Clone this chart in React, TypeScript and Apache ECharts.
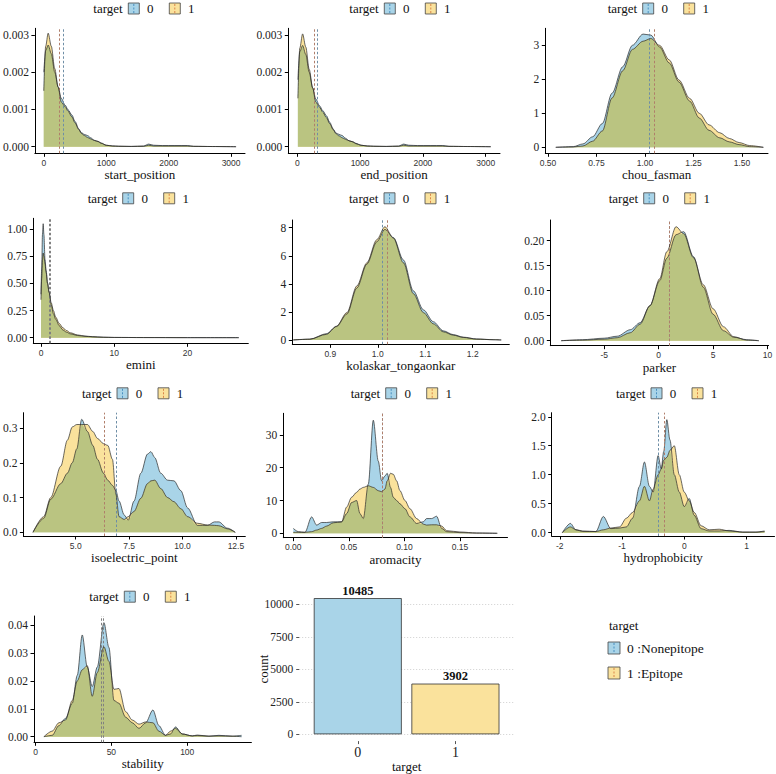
import React, { useEffect, useRef } from "react";
import * as echarts from "echarts";

const SERIF = "Liberation Serif";
const SANS = "Liberation Sans";

// ---------------- data ----------------
const variableNames = [
  "start_position", "end_position", "chou_fasman",
  "emini", "kolaskar_tongaonkar", "parker",
  "isoelectric_point", "aromacity", "hydrophobicity", "stability",
];

const startX = [0, 30, 70, 120, 175, 230, 280, 340, 390, 450, 500, 560, 600, 650, 700, 750, 810, 870, 920, 1000, 1100, 1200, 1400, 1600, 1680, 1760, 1900, 2100, 2300, 2400, 2700, 3080];
const startY0 = [0.0020, 0.00258, 0.00273, 0.0025, 0.0020, 0.0016, 0.0013, 0.00112, 0.00099, 0.00085, 0.00068, 0.00048, 0.00038, 0.00033, 0.0003, 0.00024, 0.00017, 0.00014, 0.0001, 0.00004, 0.00002, 0.000015, 0.00001, 0.00002, 0.00007, 0.00004, 0.00003, 0.00003, 0.00003, 0.00001, 0.000005, 0];
const startY1 = [0.0015, 0.0027, 0.00305, 0.0027, 0.0021, 0.0016, 0.0012, 0.00108, 0.00095, 0.0008, 0.00064, 0.00046, 0.00036, 0.0003, 0.00025, 0.00021, 0.00017, 0.00014, 0.00009, 0.00004, 0.00002, 0.00001, 0.000005, 0.00001, 0.00004, 0.00002, 0.00002, 0.00002, 0.00002, 0.00001, 0.000005, 0];

const endX = [10, 40, 85, 135, 190, 245, 295, 355, 405, 465, 515, 575, 615, 665, 715, 765, 825, 885, 935, 1015, 1115, 1215, 1415, 1615, 1695, 1775, 1915, 2115, 2315, 2415, 2715, 3080];
const endY0 = [0.0018, 0.00255, 0.00272, 0.00248, 0.0020, 0.00158, 0.00128, 0.0011, 0.00097, 0.00083, 0.00066, 0.00047, 0.00037, 0.00033, 0.0003, 0.00023, 0.00016, 0.00013, 0.00009, 0.00004, 0.00002, 0.000015, 0.00001, 0.00002, 0.00007, 0.00004, 0.00003, 0.00003, 0.00003, 0.00001, 0.000005, 0];
const endY1 = [0.0013, 0.00265, 0.00303, 0.00268, 0.00208, 0.00158, 0.0012, 0.00106, 0.00093, 0.00078, 0.00062, 0.00045, 0.00035, 0.00029, 0.00024, 0.0002, 0.00016, 0.00013, 0.00008, 0.00004, 0.00002, 0.00001, 0.000005, 0.00001, 0.00004, 0.00002, 0.00002, 0.00002, 0.00002, 0.00001, 0.000005, 0];

const chouX = [0.54, 0.63, 0.68, 0.73, 0.78, 0.83, 0.885, 0.935, 0.99, 1.03, 1.075, 1.125, 1.175, 1.23, 1.28, 1.33, 1.385, 1.435, 1.485, 1.54, 1.61];
const chouY0 = [0, 0.02, 0.1, 0.31, 0.7, 1.59, 2.37, 3.0, 3.33, 3.3, 2.95, 2.48, 1.92, 1.36, 0.86, 0.5, 0.28, 0.16, 0.08, 0.02, 0];
const chouY1 = [0, 0.01, 0.04, 0.18, 0.48, 1.45, 2.25, 2.88, 3.12, 3.2, 3.0, 2.57, 1.98, 1.44, 1.0, 0.66, 0.43, 0.26, 0.14, 0.05, 0];

const eminiX = [0, 0.1, 0.2, 0.3, 0.4, 0.55, 0.7, 0.9, 1.1, 1.4, 1.7, 2.0, 2.5, 3.0, 3.5, 4.0, 5.0, 6.0, 7.0, 8.5, 10, 14, 20, 27];
const eminiY0 = [0.4, 0.65, 0.95, 1.05, 0.95, 0.72, 0.62, 0.5, 0.42, 0.3, 0.22, 0.17, 0.11, 0.07, 0.05, 0.035, 0.02, 0.012, 0.008, 0.004, 0.002, 0.001, 0.0005, 0];
const eminiY1 = [0.35, 0.55, 0.72, 0.78, 0.75, 0.68, 0.6, 0.5, 0.42, 0.32, 0.25, 0.19, 0.13, 0.09, 0.065, 0.045, 0.025, 0.015, 0.009, 0.004, 0.002, 0.001, 0, 0];

const kolaskarX = [0.822, 0.857, 0.892, 0.913, 0.935, 0.956, 0.977, 0.998, 1.015, 1.033, 1.054, 1.075, 1.096, 1.117, 1.138, 1.159, 1.18, 1.208, 1.243, 1.26];
const kolaskarY0 = [0, 0.05, 0.45, 0.95, 1.85, 3.7, 5.4, 7.0, 7.88, 7.3, 5.7, 3.5, 2.15, 1.3, 0.65, 0.38, 0.2, 0.07, 0.02, 0];
const kolaskarY1 = [0, 0.06, 0.4, 0.98, 1.95, 3.85, 5.5, 7.15, 8.07, 7.25, 5.5, 3.3, 1.95, 1.15, 0.58, 0.34, 0.18, 0.06, 0.015, 0];

const parkerX = [-8.95, -7.0, -5.0, -3.8, -2.6, -1.7, -0.8, 0.1, 0.75, 1.6, 2.3, 3.2, 4.1, 5.0, 5.95, 6.9, 8.1, 9.2];
const parkerY0 = [0, 0.002, 0.005, 0.009, 0.022, 0.036, 0.07, 0.12, 0.165, 0.212, 0.218, 0.168, 0.107, 0.053, 0.02, 0.007, 0.002, 0];
const parkerY1 = [0, 0.001, 0.003, 0.006, 0.016, 0.033, 0.07, 0.124, 0.178, 0.228, 0.214, 0.166, 0.112, 0.064, 0.028, 0.008, 0.001, 0];

const isoX = [3.0, 3.5, 3.83, 4.3, 4.61, 4.84, 5.05, 5.28, 5.55, 5.8, 6.02, 6.3, 6.5, 6.72, 6.88, 7.03, 7.27, 7.46, 7.73, 8.05, 8.36, 8.52, 8.7, 8.98, 9.3, 9.6, 9.92, 10.24, 10.7, 11.17, 11.5, 11.7, 12.1, 12.47];
const isoY0 = [0, 0.04, 0.095, 0.14, 0.17, 0.2, 0.24, 0.325, 0.29, 0.25, 0.21, 0.17, 0.15, 0.135, 0.12, 0.09, 0.05, 0.035, 0.09, 0.17, 0.225, 0.232, 0.215, 0.17, 0.15, 0.148, 0.12, 0.07, 0.02, 0.02, 0.03, 0.03, 0.012, 0];
const isoY1 = [0, 0.045, 0.1, 0.19, 0.265, 0.303, 0.31, 0.31, 0.31, 0.29, 0.27, 0.255, 0.25, 0.21, 0.11, 0.045, 0.037, 0.045, 0.06, 0.098, 0.14, 0.148, 0.15, 0.126, 0.1, 0.088, 0.068, 0.045, 0.026, 0.021, 0.02, 0.019, 0.01, 0];

const aroX = [0, 0.0045, 0.0105, 0.0165, 0.021, 0.0255, 0.03, 0.036, 0.0435, 0.048, 0.0525, 0.057, 0.06, 0.063, 0.0675, 0.072, 0.0765, 0.0795, 0.0825, 0.0845, 0.0875, 0.09, 0.093, 0.096, 0.1005, 0.105, 0.111, 0.117, 0.12, 0.1245, 0.129, 0.1335, 0.138, 0.15, 0.165, 0.1836];
const aroY0 = [1.5, 0.5, 0.3, 5.0, 2.5, 3.3, 3.3, 3.5, 3.5, 6, 9.4, 10, 6, 4.5, 15, 34.5, 22, 16, 17.5, 18.3, 14, 11, 10, 9, 7.5, 5, 3, 3.5, 4.5, 4.5, 5.2, 1.5, 0.5, 0.2, 0.05, 0];
const aroY1 = [0.3, 0.3, 0.3, 0.5, 1.0, 1.5, 2.2, 3.2, 3.5, 8, 11, 12.5, 13.5, 14, 14.5, 14, 13, 12.7, 13.5, 16, 18.3, 18, 16, 13, 10, 7.5, 4.5, 2.8, 2.5, 2.6, 2.6, 2.2, 0.8, 0.4, 0.1, 0];

const hydroX = [-1.96, -1.83, -1.74, -1.63, -1.42, -1.3, -1.18, -1.04, -0.93, -0.83, -0.72, -0.64, -0.56, -0.5, -0.42, -0.37, -0.33, -0.28, -0.23, -0.16, -0.08, 0.0, 0.08, 0.16, 0.27, 0.4, 0.56, 0.72, 0.94, 1.15, 1.29];
const hydroY0 = [0, 0.16, 0.05, 0.02, 0.02, 0.28, 0.07, 0.08, 0.1, 0.25, 0.8, 1.22, 0.8, 0.7, 1.33, 1.1, 1.4, 1.95, 1.6, 1.0, 0.7, 0.45, 0.59, 0.3, 0.07, 0.03, 0.03, 0.04, 0.01, 0.01, 0.03];
const hydroY1 = [0, 0.1, 0.05, 0.03, 0.02, 0.05, 0.08, 0.1, 0.25, 0.35, 0.55, 0.8, 0.55, 0.75, 1.0, 1.1, 1.25, 1.3, 1.42, 1.5, 1.0, 0.7, 0.55, 0.35, 0.12, 0.05, 0.06, 0.03, 0.01, 0.01, 0.02];

const stabX = [5.5, 11, 15.4, 19.8, 24.2, 27.5, 30.8, 34.1, 37.4, 40.7, 45.1, 48.4, 51.7, 55, 59.4, 63.8, 68.2, 72.6, 77.4, 81.3, 85.7, 89, 92.3, 96.7, 103.3, 106.6, 114.3, 120.9, 129.7, 135.8];
const stabY0 = [0, 0.0005, 0.004, 0.0066, 0.012, 0.022, 0.0365, 0.025, 0.018, 0.025, 0.0409, 0.032, 0.013, 0.012, 0.007, 0.005, 0.003, 0.005, 0.0096, 0.004, 0.0005, 0.001, 0.0035, 0.001, 0.0003, 0.0006, 0.0002, 0.0005, 0.0002, 0.0005];
const stabY1 = [0, 0.002, 0.005, 0.006, 0.013, 0.02, 0.024, 0.0255, 0.0145, 0.023, 0.0323, 0.027, 0.017, 0.0173, 0.009, 0.006, 0.0045, 0.0053, 0.005, 0.002, 0.0005, 0.002, 0.003, 0.001, 0.0003, 0.0004, 0.0002, 0.0003, 0.0002, 0];

const meansTarget0 = [318, 325, 1.022, 1.13, 1.012, 0.96, 6.92, 0.0765, -0.42, 44.4];
const meansTarget1 = [254, 271, 1.048, 1.32, 1.016, 0.98, 6.33, 0.0787, -0.315, 43.5];

const xTickValues = [
  [0, 1000, 2000, 3000], [0, 1000, 2000, 3000], [0.5, 0.75, 1.0, 1.25, 1.5],
  [0, 10, 20], [0.9, 1.0, 1.1, 1.2], [-5, 0, 5, 10],
  [5, 7.5, 10, 12.5], [0, 0.05, 0.1, 0.15], [-2, -1, 0, 1], [0, 50, 100],
];
const yTickValues = [
  [0, 0.001, 0.002, 0.003], [0, 0.001, 0.002, 0.003], [0, 1, 2, 3],
  [0, 0.25, 0.5, 0.75, 1.0], [0, 2, 4, 6, 8], [0, 0.05, 0.1, 0.15, 0.2],
  [0, 0.1, 0.2, 0.3], [0, 10, 20, 30], [0, 0.5, 1.0, 1.5, 2.0], [0, 0.01, 0.02, 0.03, 0.04],
];
const xTickDecimals = [0, 0, 2, 0, 1, 0, 1, 2, 0, 0];
const yTickDecimals = [3, 3, 0, 2, 0, 2, 1, 0, 1, 2];

const groupKeys = ["0", "1"];
const barCategories = ["0", "1"];
const barCounts = [10485, 3902];
const barTicks = [0, 2500, 5000, 7500, 10000];
const legendLabels = ["0 :Nonepitope", "1 :Epitope"];

const densityX = [startX, endX, chouX, eminiX, kolaskarX, parkerX, isoX, aroX, hydroX, stabX];
const densityY0 = [startY0, endY0, chouY0, eminiY0, kolaskarY0, parkerY0, isoY0, aroY0, hydroY0, stabY0];
const densityY1 = [startY1, endY1, chouY1, eminiY1, kolaskarY1, parkerY1, isoY1, aroY1, hydroY1, stabY1];

// ---------------- layout (pixels / axis ranges) ----------------
const layout = [
  { l: 33.3, r: 245, t: 28.3, b: 153.3, xmin: -143, xmax: 3223, ymin: -0.000177, ymax: 0.00318, lx: 93.3, ly: 8.5 },
  { l: 288.3, r: 500, t: 28.3, b: 153.3, xmin: -143, xmax: 3228, ymin: -0.000177, ymax: 0.00318, lx: 349.3, ly: 8.5 },
  { l: 545.3, r: 768, t: 28.3, b: 153.3, xmin: 0.486, xmax: 1.634, ymin: -0.176, ymax: 3.5, lx: 607.7, ly: 8.5 },
  { l: 33.3, r: 248.3, t: 218.3, b: 343.3, xmin: -1.05, xmax: 28.3, ymin: -0.052, ymax: 1.1, lx: 87.7, ly: 198.3, grayMeans: true },
  { l: 292.3, r: 509.3, t: 220, b: 344.3, xmin: 0.82, xmax: 1.277, ymin: -0.31, ymax: 8.55, lx: 349, ly: 198.3 },
  { l: 550.3, r: 768.6, t: 220, b: 345.7, xmin: -9.95, xmax: 10.1, ymin: -0.01, ymax: 0.2414, lx: 608.7, ly: 198.3 },
  { l: 23.3, r: 245.3, t: 412.7, b: 536, xmin: 2.55, xmax: 12.94, ymin: -0.0106, ymax: 0.344, lx: 82, ly: 393.3 },
  { l: 283.3, r: 507.5, t: 413.3, b: 537.7, xmin: -0.009, xmax: 0.1928, ymin: -1.34, ymax: 36.6, lx: 350.7, ly: 393.3 },
  { l: 551.7, r: 774.5, t: 412.7, b: 536, xmin: -2.13, xmax: 1.45, ymin: -0.057, ymax: 2.07, lx: 616, ly: 393.3 },
  { l: 34, r: 251.4, t: 616, b: 742.3, xmin: -1, xmax: 142.3, ymin: -0.002, ymax: 0.0433, lx: 89.3, ly: 596.7, grayMeans: true },
];
const barLayout = { l: 299.2, r: 514, t: 591.3, b: 747.8, xmin: 0.4, xmax: 2.6, ymin: -524, ymax: 11009 };

const C_BLUE = "#A9D4E8";
const C_YEL = "#FAE29C";
const C_OLIVE = "#BAC481";
const C_LINE = "#2a2a2a";
const C_M0 = "#6E8EA6";
const C_M1 = "#B07E6A";
const C_MGRAY = "#808080";
const C_KEY0 = "#4A90C0";
const C_KEY1 = "#D9854A";
const C_TEXT = "#111";

function pairs(xs: number[], ys: number[]) {
  return xs.map((x, i) => [x, ys[i]]);
}
function lower(a: number[], b: number[]) {
  return a.map((v, i) => Math.min(v, b[i]));
}

function keyBox(x: number, y: number, size: number, fill: string, dash: string) {
  return [
    { type: "rect", shape: { x, y, width: size, height: size }, style: { fill, stroke: "#444", lineWidth: 0.8 } },
    { type: "line", shape: { x1: x + size / 2, y1: y + 1, x2: x + size / 2, y2: y + size - 1 }, style: { stroke: dash, lineWidth: 1, lineDash: [2, 1.5] } },
  ];
}
function txt(x: number, y: number, s: string, size: number, align = "left", extra: any = {}) {
  return {
    type: "text", x, y, ...extra,
    style: { text: s, fontSize: size, fontFamily: SERIF, fill: C_TEXT, align, verticalAlign: "middle" },
  };
}

function buildOption() {
  const grid: any[] = [];
  const xAxis: any[] = [];
  const yAxis: any[] = [];
  const series: any[] = [];
  const graphic: any[] = [];

  layout.forEach((p: any, i) => {
    grid.push({ left: p.l, top: p.t, width: p.r - p.l, height: p.b - p.t, containLabel: false });
    const xd = xTickDecimals[i];
    const yd = yTickDecimals[i];
    xAxis.push({
      gridIndex: i, type: "value", min: p.xmin, max: p.xmax,
      axisLine: { show: true, onZero: false, lineStyle: { color: "#000", width: 1 } },
      axisTick: { show: true, length: 3.5, customValues: xTickValues[i], lineStyle: { color: "#000" } },
      axisLabel: {
        customValues: xTickValues[i], formatter: (v: number) => v.toFixed(xd),
        fontFamily: SANS, fontSize: 8.5, color: "#333", margin: 5,
      },
      splitLine: { show: false },
      name: variableNames[i], nameLocation: "middle", nameGap: 15,
      nameTextStyle: { fontFamily: SERIF, fontSize: 13, color: C_TEXT },
    });
    yAxis.push({
      gridIndex: i, type: "value", min: p.ymin, max: p.ymax,
      axisLine: { show: true, onZero: false, lineStyle: { color: "#000", width: 1 } },
      axisTick: { show: true, length: 3.5, customValues: yTickValues[i], lineStyle: { color: "#000" } },
      axisLabel: {
        customValues: yTickValues[i], formatter: (v: number) => v.toFixed(yd),
        fontFamily: SERIF, fontSize: 11.5, color: "#222", margin: 6,
      },
      splitLine: { show: false },
    });
    const xs = densityX[i];
    const y0 = densityY0[i];
    const y1 = densityY1[i];
    const common = {
      type: "line", xAxisIndex: i, yAxisIndex: i, symbol: "none", showSymbol: false,
      smooth: 0.3, smoothMonotone: "x", silent: true,
    };
    const m0c = p.grayMeans ? C_MGRAY : C_M0;
    const m1c = p.grayMeans ? C_MGRAY : C_M1;
    series.push({ ...common, data: pairs(xs, y0), lineStyle: { width: 0 }, areaStyle: { color: C_BLUE, opacity: 1 }, z: 1 });
    series.push({ ...common, data: pairs(xs, y1), lineStyle: { width: 0 }, areaStyle: { color: C_YEL, opacity: 1 }, z: 2 });
    series.push({ ...common, data: pairs(xs, lower(y0, y1)), lineStyle: { width: 0 }, areaStyle: { color: C_OLIVE, opacity: 1 }, z: 3 });
    series.push({ ...common, data: pairs(xs, y0), lineStyle: { width: 0.7, color: C_LINE }, z: 4 });
    series.push({
      ...common, data: pairs(xs, y1), lineStyle: { width: 0.7, color: C_LINE }, z: 5,
      markLine: {
        silent: true, symbol: ["none", "none"], label: { show: false },
        data: [
          { xAxis: meansTarget0[i], lineStyle: { color: m0c, type: [2.5, 2], width: 1 } },
          { xAxis: meansTarget1[i], lineStyle: { color: m1c, type: [2.5, 2], width: 1 } },
        ],
      },
    });
    // panel legend
    graphic.push(txt(p.lx, p.ly, "target", 13));
    graphic.push(...keyBox(p.lx + 35, p.ly - 5.5, 11, C_BLUE, C_KEY0));
    graphic.push(txt(p.lx + 57, p.ly, groupKeys[0], 13, "center"));
    graphic.push(...keyBox(p.lx + 76, p.ly - 5.5, 11, C_YEL, C_KEY1));
    graphic.push(txt(p.lx + 98, p.ly, groupKeys[1], 13, "center"));
  });

  // bar chart
  const bi = layout.length;
  const b = barLayout;
  grid.push({ left: b.l, top: b.t, width: b.r - b.l, height: b.b - b.t });
  xAxis.push({
    gridIndex: bi, type: "value", min: b.xmin, max: b.xmax,
    axisLine: { show: false, onZero: false },
    axisTick: { show: true, length: 3, customValues: [1, 2], lineStyle: { color: "#555" } },
    axisLabel: {
      customValues: [1, 2], formatter: (v: number) => barCategories[Math.round(v) - 1],
      fontFamily: SERIF, fontSize: 14, color: "#222", margin: 4,
    },
    splitLine: { show: false },
    name: "target", nameLocation: "middle", nameGap: 12,
    nameTextStyle: { fontFamily: SERIF, fontSize: 13, color: C_TEXT },
  });
  yAxis.push({
    gridIndex: bi, type: "value", min: b.ymin, max: b.ymax,
    axisLine: { show: false, onZero: false },
    axisTick: { show: true, length: 3, customValues: barTicks, lineStyle: { color: "#555" } },
    axisLabel: {
      customValues: barTicks, formatter: (v: number) => String(v),
      fontFamily: SERIF, fontSize: 11.5, color: "#222", margin: 6,
    },
    splitLine: { show: false },
  });
  series.push({
    type: "bar", xAxisIndex: bi, yAxisIndex: bi, barWidth: 88, silent: true,
    data: barCounts.map((c, k) => ({
      value: [k + 1, c],
      itemStyle: { color: k === 0 ? C_BLUE : C_YEL, borderColor: "#333", borderWidth: 0.8 },
    })),
    label: {
      show: true, position: "top", distance: 1,
      formatter: (p: any) => String(p.value[1]),
      fontFamily: SERIF, fontWeight: "bold", fontSize: 12.5, color: C_TEXT,
    },
    markLine: {
      silent: true, symbol: ["none", "none"], label: { show: false },
      lineStyle: { color: "#cfcfcf", type: [1, 2], width: 1 },
      data: barTicks.map((t) => ({ yAxis: t })),
      z: 0,
    },
    z: 2,
  });
  graphic.push(txt(263, 669, "count", 13, "center", { rotation: Math.PI / 2 }));

  // main legend
  graphic.push(txt(609, 625, "target", 13));
  graphic.push(...keyBox(608, 642, 12, C_BLUE, C_KEY0));
  graphic.push(txt(627, 648, legendLabels[0], 13.5));
  graphic.push(...keyBox(608, 667, 12, C_YEL, C_KEY1));
  graphic.push(txt(627, 673, legendLabels[1], 13.5));

  return {
    animation: false,
    backgroundColor: "#fff",
    grid, xAxis, yAxis, series, graphic,
  };
}

export default function App() {
  const ref = useRef<HTMLDivElement>(null);
  useEffect(() => {
    if (!ref.current) return;
    const chart = echarts.init(ref.current, null, { renderer: "svg" });
    chart.setOption(buildOption() as any);
    return () => chart.dispose();
  }, []);
  return (
    <div
      ref={ref}
      style={{ position: "fixed", left: 0, top: 0, width: 776, height: 774, background: "#fff" }}
    />
  );
}
